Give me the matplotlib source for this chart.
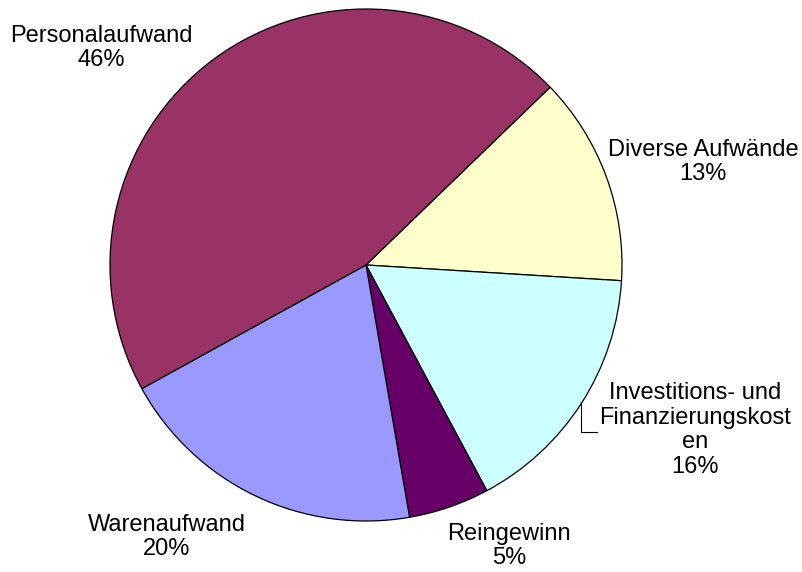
import matplotlib
matplotlib.use('Agg')
import matplotlib.pyplot as plt

# data
names = ['Diverse Aufwände', 'Investitions- und\nFinanzierungskost\nen', 'Reingewinn',
         'Warenaufwand', 'Personalaufwand']
values = [13.2, 16.2, 5.1, 19.7, 45.8]
colors = ['#FFFFCC', '#CCFFFF', '#660066', '#9999FF', '#993366']

# label layout (pixel coords, y from top)
label_pos = [(703, 162), (695, 430), (509, 546), (167, 537), (101, 48)]

plt.rcParams['font.family'] = ['Liberation Sans', 'DejaVu Sans']

W, H = 803, 572
fig = plt.figure(figsize=(W / 100, H / 100), dpi=100)
ax = fig.add_axes([0, 0, 1, 1])
ax.axis('off')

ax.pie(values, colors=colors, startangle=44, counterclock=False,
       center=(366, H - 265), radius=256,
       wedgeprops=dict(edgecolor='black', linewidth=0.9))

total = sum(values)
for name, v, (x, y) in zip(names, values, label_pos):
    ax.text(x, H - y, '%s\n%d%%' % (name, round(100 * v / total)),
            ha='center', va='center', fontsize=17, linespacing=1.15)

# leader line for Investitions label
ax.plot([581, 581, 597], [H - 402, H - 432, H - 432], color='black', lw=0.8)

ax.set_aspect('equal')
ax.set_xlim(0, W)
ax.set_ylim(0, H)
fig.savefig('out.png', dpi=100)
